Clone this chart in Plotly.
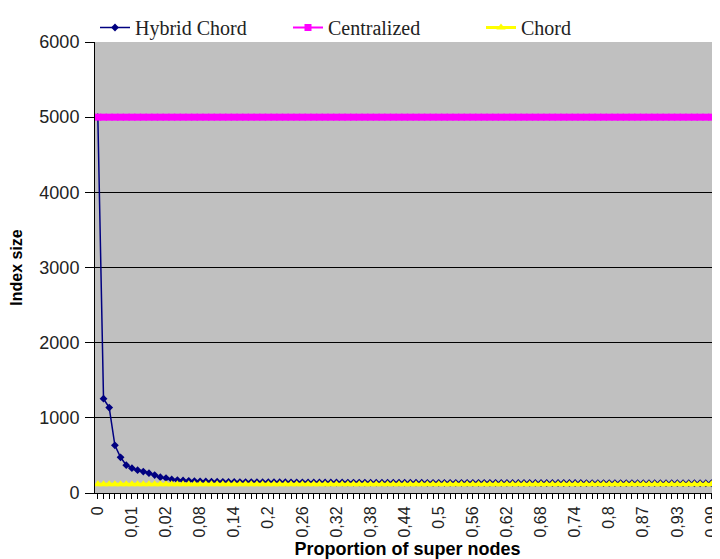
import plotly.graph_objects as go

# proportion of super nodes (category axis, one entry per sample)
proportion = [
    0, 0.002, 0.003, 0.005, 0.007, 0.008, 0.01, 0.012, 0.013, 0.015,
    0.017, 0.018, 0.02, 0.03, 0.04, 0.05, 0.06, 0.07, 0.08, 0.09,
    0.10, 0.11, 0.12, 0.13, 0.14, 0.15, 0.16, 0.17, 0.18, 0.19,
    0.20, 0.21, 0.22, 0.23, 0.24, 0.25, 0.26, 0.27, 0.28, 0.29,
    0.30, 0.31, 0.32, 0.33, 0.34, 0.35, 0.36, 0.37, 0.38, 0.39,
    0.40, 0.41, 0.42, 0.43, 0.44, 0.45, 0.46, 0.47, 0.48, 0.49,
    0.50, 0.51, 0.52, 0.53, 0.54, 0.55, 0.56, 0.57, 0.58, 0.59,
    0.60, 0.61, 0.62, 0.63, 0.64, 0.65, 0.66, 0.67, 0.68, 0.69,
    0.70, 0.71, 0.72, 0.73, 0.74, 0.75, 0.76, 0.77, 0.78, 0.79,
    0.80, 0.812, 0.823, 0.835, 0.846, 0.858, 0.869, 0.879, 0.889, 0.899,
    0.909, 0.919, 0.929, 0.939, 0.949, 0.959, 0.969, 0.979, 0.989, 0.999,
]

# labels shown on every 6th category
tick_labels = ["0", "0,01", "0,02", "0,08", "0,14", "0,2", "0,26", "0,32",
               "0,38", "0,44", "0,5", "0,56", "0,62", "0,68", "0,74", "0,8",
               "0,87", "0,93", "0,99"]

hybrid_chord = [
    5000, 1255, 1136, 634, 475, 370, 330, 304, 285, 264,
    238, 211, 198, 180, 172, 166, 162, 158, 155, 153,
    151, 150, 149, 148, 147, 146, 146, 145, 145, 144,
    144, 143, 143, 143, 142, 142, 142, 141, 141, 141,
    140, 140, 140, 140, 139, 139, 139, 139, 138, 138,
    138, 138, 138, 137, 137, 137, 137, 137, 136, 136,
    136, 136, 136, 136, 135, 135, 135, 135, 135, 135,
    135, 134, 134, 134, 134, 134, 134, 134, 133, 133,
    133, 133, 133, 133, 133, 133, 132, 132, 132, 132,
    132, 132, 132, 132, 132, 131, 131, 131, 131, 131,
    131, 131, 131, 131, 131, 130, 130, 130, 130, 130,
]

centralized = [
    5000, 5000, 5000, 5000, 5000, 5000, 5000, 5000, 5000, 5000,
    5000, 5000, 5000, 5000, 5000, 5000, 5000, 5000, 5000, 5000,
    5000, 5000, 5000, 5000, 5000, 5000, 5000, 5000, 5000, 5000,
    5000, 5000, 5000, 5000, 5000, 5000, 5000, 5000, 5000, 5000,
    5000, 5000, 5000, 5000, 5000, 5000, 5000, 5000, 5000, 5000,
    5000, 5000, 5000, 5000, 5000, 5000, 5000, 5000, 5000, 5000,
    5000, 5000, 5000, 5000, 5000, 5000, 5000, 5000, 5000, 5000,
    5000, 5000, 5000, 5000, 5000, 5000, 5000, 5000, 5000, 5000,
    5000, 5000, 5000, 5000, 5000, 5000, 5000, 5000, 5000, 5000,
    5000, 5000, 5000, 5000, 5000, 5000, 5000, 5000, 5000, 5000,
    5000, 5000, 5000, 5000, 5000, 5000, 5000, 5000, 5000, 5000,
]

chord = [
    115, 115, 115, 115, 115, 115, 115, 115, 115, 115,
    115, 115, 115, 115, 115, 115, 115, 115, 115, 115,
    115, 115, 115, 115, 115, 115, 115, 115, 115, 115,
    115, 115, 115, 115, 115, 115, 115, 115, 115, 115,
    115, 115, 115, 115, 115, 115, 115, 115, 115, 115,
    115, 115, 115, 115, 115, 115, 115, 115, 115, 115,
    115, 115, 115, 115, 115, 115, 115, 115, 115, 115,
    115, 115, 115, 115, 115, 115, 115, 115, 115, 115,
    115, 115, 115, 115, 115, 115, 115, 115, 115, 115,
    115, 115, 115, 115, 115, 115, 115, 115, 115, 115,
    115, 115, 115, 115, 115, 115, 115, 115, 115, 115,
]

cats = [str(p) for p in proportion]
ticktext = [""] * len(cats)
for i, lbl in enumerate(tick_labels):
    ticktext[i * 6] = lbl

fig = go.Figure()

fig.add_trace(go.Scatter(
    x=cats, y=hybrid_chord, name="Hybrid Chord", mode="lines+markers",
    line=dict(color="#000080", width=1.5),
    marker=dict(symbol="diamond", size=6, color="#000080"),
))
fig.add_trace(go.Scatter(
    x=cats, y=centralized, name="Centralized", mode="lines+markers",
    line=dict(color="#FF00FF", width=2),
    marker=dict(symbol="square", size=7, color="#FF00FF"),
))
fig.add_trace(go.Scatter(
    x=cats, y=chord, name="Chord", mode="lines+markers",
    line=dict(color="#FFFF00", width=3),
    marker=dict(symbol="triangle-up", size=8, color="#FFFF00"),
))

# page body has an 8px margin, so the figure is 8px smaller each way
fig.update_layout(
    width=712, height=551,
    margin=dict(l=87, r=0, t=31, b=66),
    paper_bgcolor="white",
    plot_bgcolor="#C0C0C0",
    font=dict(family="Liberation Sans, Arial", color="#222"),
    legend=dict(
        orientation="h", x=0, xanchor="left", y=0.99, yanchor="bottom",
        font=dict(family="Liberation Serif, Times New Roman", size=20, color="#222"),
        entrywidth=148, entrywidthmode="pixels",
        bgcolor="rgba(0,0,0,0)",
    ),
    xaxis=dict(
        type="category", range=[-0.5, len(cats) - 0.5],
        tickmode="array", tickvals=cats, ticktext=ticktext,
        tickangle=-90, tickfont=dict(size=16), ticklabelstandoff=1,
        ticks="outside", ticklen=5, tickcolor="black",
        showline=True, linecolor="black", showgrid=False,
        title=dict(text="<b>Proportion of super nodes</b>",
                   font=dict(size=18, color="black"), standoff=6),
    ),
    yaxis=dict(
        range=[0, 6000], dtick=1000, tickfont=dict(size=18),
        ticks="outside", ticklen=9, tickcolor="black", ticklabelstandoff=2,
        showline=True, linecolor="black",
        showgrid=True, gridcolor="black", gridwidth=1, zeroline=False,
        title=dict(text="<b>Index size</b>",
                   font=dict(size=16, color="black"), standoff=14),
    ),
)

fig.write_html("out.html")
